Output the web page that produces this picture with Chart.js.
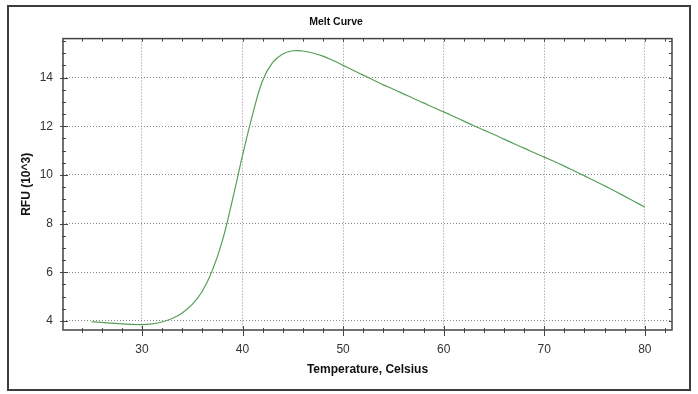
<!DOCTYPE html>
<html>
<head>
<meta charset="utf-8">
<script src="https://cdn.jsdelivr.net/npm/chart.js@4.4.0/dist/chart.umd.min.js"></script>
<style>
  body { margin: 0; background: #fff; }
  canvas { display: block; }
</style>
</head>
<body>
<canvas id="meltChart" width="698" height="394"></canvas>
<script>
const temps = [
  25, 26, 27, 28, 29, 30, 31, 32, 33, 34, 35, 36, 37, 38, 39, 40,
  41, 42, 43, 44, 45, 46, 47, 48, 49, 50, 51, 52, 53, 54, 55, 56,
  57, 58, 59, 60, 61, 62, 63, 64, 65, 66, 67, 68, 69, 70, 71, 72,
  73, 74, 75, 76, 77, 78, 79, 80
];

// RFU in thousands
const rfu = [
  3.97, 3.94, 3.91, 3.88, 3.86, 3.85, 3.88, 3.96, 4.10, 4.33, 4.68, 5.22, 6.08, 7.30, 8.98, 10.80,
  12.48, 13.88, 14.62, 14.97, 15.10, 15.09, 15.01, 14.88, 14.70, 14.50, 14.30, 14.10, 13.90, 13.70, 13.52, 13.33,
  13.14, 12.96, 12.77, 12.59, 12.40, 12.21, 12.02, 11.84, 11.66, 11.47, 11.28, 11.10, 10.91, 10.73, 10.55, 10.36,
  10.16, 9.96, 9.76, 9.55, 9.34, 9.12, 8.90, 8.68
];

const xTickLabels = [30, 40, 50, 60, 70, 80];
const yTickLabels = [4, 6, 8, 10, 12, 14];
const xMinorStep = 2;
const yMinorStep = 0.5;

const font = "'Liberation Sans', Arial, sans-serif";

// frame box, minor/major tick marks on all four sides, outer border
const framePlugin = {
  id: "frame",
  afterDatasetsDraw(chart) {
    const ctx = chart.ctx;
    const a = chart.chartArea;
    const xs = chart.scales.x, ys = chart.scales.y;
    ctx.save();
    ctx.strokeStyle = "#444";
    ctx.lineWidth = 1.5;
    ctx.strokeRect(a.left, a.top, a.right - a.left, a.bottom - a.top);

    ctx.lineWidth = 1;
    ctx.beginPath();
    for (let v = Math.ceil(xs.min / xMinorStep) * xMinorStep; v <= xs.max; v += xMinorStep) {
      const px = Math.round(xs.getPixelForValue(v)) + 0.5;
      const major = xTickLabels.includes(v);
      ctx.moveTo(px, a.bottom - (major ? 4 : 2));
      ctx.lineTo(px, a.bottom + (major ? 6 : 3));
      ctx.moveTo(px, a.top);
      ctx.lineTo(px, a.top + 3);
    }
    for (let v = Math.ceil(ys.min / yMinorStep) * yMinorStep; v <= ys.max; v += yMinorStep) {
      const py = Math.round(ys.getPixelForValue(v)) + 0.5;
      const major = yTickLabels.includes(v);
      ctx.moveTo(a.left - (major ? 3 : 1), py);
      ctx.lineTo(a.left + (major ? 5 : 3), py);
      ctx.moveTo(a.right, py);
      ctx.lineTo(a.right - 3, py);
    }
    ctx.stroke();

    ctx.strokeStyle = "#3c3c3c";
    ctx.lineWidth = 2;
    ctx.strokeRect(8, 6, 682, 384);
    ctx.restore();
  }
};

new Chart(document.getElementById("meltChart"), {
  type: "line",
  data: {
    datasets: [{
      data: temps.map((t, i) => ({ x: t, y: rfu[i] })),
      borderColor: "#55a055",
      borderWidth: 1.2,
      pointRadius: 0,
      tension: 0.4,
      fill: false
    }]
  },
  options: {
    responsive: false,
    animation: false,
    devicePixelRatio: 1,
    layout: { padding: { left: 0, right: 26, top: 0, bottom: 0 } },
    plugins: {
      legend: { display: false },
      tooltip: { enabled: false },
      title: {
        display: true,
        text: "Melt Curve",
        color: "#111",
        font: { size: 10.5, weight: "bold", family: font },
        padding: { top: 16, bottom: 10 }
      }
    },
    scales: {
      x: {
        type: "linear",
        min: 22.15,
        max: 82.7,
        afterBuildTicks: s => { s.ticks = xTickLabels.map(v => ({ value: v })); },
        afterFit: s => { s.height = 64; },
        grid: { color: "#8c8c8c", lineWidth: 1, drawTicks: false },
        border: { display: false, dash: [1, 2] },
        ticks: {
          color: "#333",
          padding: 12,
          maxRotation: 0,
          font: { size: 12, family: font }
        },
        title: {
          display: true,
          text: "Temperature, Celsius",
          color: "#111",
          font: { size: 12, weight: "bold", family: font },
          padding: { top: 0, bottom: 17 }
        }
      },
      y: {
        type: "linear",
        min: 3.63,
        max: 15.6,
        afterBuildTicks: s => { s.ticks = yTickLabels.map(v => ({ value: v })); },
        afterFit: s => { s.width = 63; },
        grid: { color: "#8c8c8c", lineWidth: 1, drawTicks: false },
        border: { display: false, dash: [1, 2] },
        ticks: {
          color: "#333",
          padding: 10,
          font: { size: 12, family: font }
        },
        title: {
          display: true,
          text: "RFU (10^3)",
          color: "#111",
          font: { size: 12, weight: "bold", family: font },
          padding: { top: 19, bottom: 0 }
        }
      }
    }
  },
  plugins: [framePlugin]
});
</script>
</body>
</html>
